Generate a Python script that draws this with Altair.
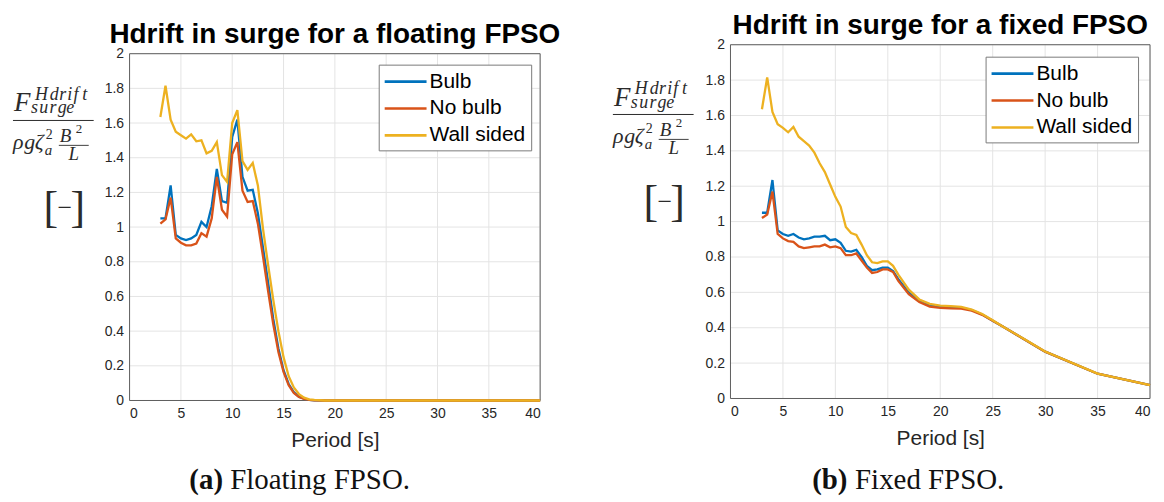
import altair as alt
import pandas as pd

SERIES = ["Bulb", "No bulb", "Wall sided"]
COLORS = ["#0072BD", "#D95319", "#EDB120"]

X_TICKS = [0, 5, 10, 15, 20, 25, 30, 35, 40]
Y_TICKS = [0, 0.2, 0.4, 0.6, 0.8, 1.0, 1.2, 1.4, 1.6, 1.8, 2.0]
X_LIM = [0, 40]
Y_LIM = [0, 2]

TITLE_A = "Hdrift in surge for a floating FPSO"
TITLE_B = "Hdrift in surge for a fixed FPSO"
X_TITLE = "Period [s]"
CAP_A = ("(a)", "Floating FPSO.")
CAP_B = ("(b)", "Fixed FPSO.")

# (a) floating FPSO
float_period = [3.0, 3.5, 4.0, 4.5, 5.0, 5.5, 6.0, 6.5, 7.0, 7.5, 8.0, 8.5, 9.0, 9.5,
                10.0, 10.5, 11.0, 11.5, 12.0, 12.5, 13.0, 13.5, 14.0, 14.5, 15.0, 15.5,
                16.0, 16.5, 17.0, 17.5, 18.0, 19.0, 20.0, 25.0, 30.0, 35.0, 40.0]
float_bulb = [1.05, 1.05, 1.24, 0.955, 0.935, 0.925, 0.935, 0.955, 1.03, 1.00, 1.12, 1.335,
              1.15, 1.14, 1.52, 1.62, 1.29, 1.21, 1.215, 1.08, 0.88, 0.68, 0.47, 0.30,
              0.175, 0.095, 0.048, 0.022, 0.010, 0.004, 0.001, 0, 0, 0, 0, 0, 0]
float_nobulb = [1.02, 1.045, 1.17, 0.935, 0.91, 0.895, 0.895, 0.905, 0.965, 0.945, 1.05, 1.29,
                1.10, 1.06, 1.42, 1.49, 1.21, 1.145, 1.15, 1.02, 0.83, 0.63, 0.44, 0.28,
                0.165, 0.088, 0.044, 0.020, 0.009, 0.003, 0.001, 0, 0, 0, 0, 0, 0]
float_wall = [1.635, 1.815, 1.62, 1.55, 1.53, 1.51, 1.535, 1.495, 1.50, 1.425, 1.44, 1.49,
              1.30, 1.26, 1.60, 1.675, 1.38, 1.33, 1.37, 1.24, 0.99, 0.78, 0.58, 0.40,
              0.25, 0.14, 0.075, 0.037, 0.016, 0.007, 0.003, 0, 0, 0, 0, 0, 0]

# (b) fixed FPSO
fixed_period = [3.0, 3.5, 4.0, 4.5, 5.0, 5.5, 6.0, 6.5, 7.0, 7.5, 8.0, 8.5, 9.0, 9.5,
                10.0, 10.5, 11.0, 11.5, 12.0, 12.5, 13.0, 13.5, 14.0, 14.5, 15.0, 15.5,
                16.0, 17, 18, 19, 20, 21, 22, 23, 24, 25, 26, 27, 28, 29, 30, 35, 40]
fixed_bulb = [1.05, 1.05, 1.235, 0.95, 0.93, 0.92, 0.93, 0.91, 0.90, 0.905, 0.915, 0.915,
              0.92, 0.895, 0.90, 0.88, 0.835, 0.83, 0.84, 0.80, 0.75, 0.725, 0.73, 0.74,
              0.74, 0.72, 0.675, 0.60, 0.555, 0.53, 0.52, 0.517, 0.513, 0.50, 0.475, 0.44,
              0.405, 0.37, 0.335, 0.30, 0.265, 0.14, 0.075]
fixed_nobulb = [1.02, 1.04, 1.17, 0.93, 0.905, 0.89, 0.885, 0.86, 0.85, 0.855, 0.86, 0.86,
                0.87, 0.855, 0.86, 0.85, 0.81, 0.81, 0.82, 0.78, 0.74, 0.71, 0.715, 0.73,
                0.73, 0.715, 0.665, 0.59, 0.545, 0.52, 0.512, 0.51, 0.508, 0.497, 0.473, 0.44,
                0.405, 0.37, 0.335, 0.30, 0.265, 0.14, 0.075]
fixed_wall = [1.635, 1.815, 1.62, 1.55, 1.53, 1.505, 1.535, 1.48, 1.455, 1.43, 1.39, 1.33,
              1.28, 1.21, 1.14, 1.085, 0.97, 0.935, 0.925, 0.87, 0.81, 0.77, 0.765, 0.775,
              0.775, 0.75, 0.70, 0.615, 0.56, 0.535, 0.525, 0.522, 0.518, 0.503, 0.478, 0.442,
              0.406, 0.371, 0.336, 0.301, 0.266, 0.141, 0.076]

SANS = "Liberation Sans"
SERIF = "Liberation Serif"
INK = "#2b2b2b"
AXIS_INK = "#262626"
BOX = "#5e5e5e"
GRID = "#e4e4e4"
ONE = alt.Data(values=[{"k": 1}])

# approximate Computer Modern math-italic advance widths (em)
CMW = {"H": 0.831, "d": 0.520, "r": 0.451, "i": 0.345, "f": 0.490, "t": 0.361,
       "s": 0.469, "u": 0.572, "g": 0.477, "e": 0.466, "ρ": 0.517, "ζ": 0.438}


def long_df(period, series_values):
    rows = []
    for name, ys in zip(SERIES, series_values):
        for x, y in zip(period, ys):
            rows.append({"Period": x, "Value": y, "Series": name})
    return pd.DataFrame(rows)


def txt(s, x, y, size, font=SERIF, style="normal", weight="normal",
        align="left", baseline="alphabetic", color=INK):
    return alt.Chart(ONE).mark_text(
        text=s, font=font, fontSize=size, fontStyle=style, fontWeight=weight,
        align=align, baseline=baseline, color=color
    ).encode(x=alt.value(x), y=alt.value(y))


def rule(x1, x2, y, color=INK, width=1.0):
    return alt.Chart(ONE).mark_rule(color=color, strokeWidth=width).encode(
        x=alt.value(x1), x2=alt.value(x2), y=alt.value(y))


def math_word(w, x, y, size):
    out = []
    cx = x
    for ch in w:
        out.append(txt(ch, cx, y, size, style="italic"))
        cx += CMW[ch] * size
    return out


def y_label(dx, dy):
    parts = []
    parts.append(txt("F", -116 + dx, 58 + dy, 27, style="italic"))
    parts += math_word("Hdrift", -95 + dx, 46 + dy, 18)
    parts += math_word("surge", -99 + dx, 60 + dy, 18)
    parts.append(rule(-117 + dx, -36 + dx, 67 + dy))
    parts += math_word("ρgζ", -117 + dx, 96 + dy, 22)
    parts.append(txt("2", -84 + dx, 86 + dy, 14))
    parts.append(txt("a", -85 + dx, 102 + dy, 15, style="italic"))
    parts.append(txt("B", -70 + dx, 89 + dy, 19, style="italic"))
    parts.append(txt("2", -54 + dx, 80 + dy, 13))
    parts.append(rule(-71 + dx, -41 + dx, 92 + dy, width=0.9))
    parts.append(txt("L", -56 + dx, 107 + dy, 19, style="italic", align="center"))
    parts.append(txt("[", -79 + dx, 156 + dy, 44, align="center", baseline="middle"))
    parts.append(txt("\u2212", -65 + dx, 155 + dy, 26, align="center", baseline="middle"))
    parts.append(txt("]", -52 + dx, 156 + dy, 44, align="center", baseline="middle"))
    return parts


def panel(df, w, h, y_top, title, title_y, caption, cap_x, cap_gap, cap_y,
          legend_x, legend_y, dx, dy, extra_label=""):
    xs = alt.Scale(domain=X_LIM, nice=False, zero=False)
    ys = alt.Scale(domain=[0, y_top], nice=False)
    ax = alt.Axis(values=X_TICKS, title=X_TITLE, grid=False, format="d")
    ay = alt.Axis(values=Y_TICKS, title=None, grid=False, format="~g")

    vlines = pd.DataFrame({"gx": X_TICKS, "g0": Y_LIM[0], "g1": Y_LIM[1]})
    hlines = pd.DataFrame({"gy": Y_TICKS, "g0": X_LIM[0], "g1": X_LIM[1]})
    vbox_df = pd.DataFrame({"gx": X_LIM, "g0": Y_LIM[0], "g1": Y_LIM[1]})
    hbox_df = pd.DataFrame({"gy": Y_LIM, "g0": X_LIM[0], "g1": X_LIM[1]})

    def vrules(d, color):
        return alt.Chart(d).mark_rule(color=color, strokeWidth=1).encode(
            x=alt.X("gx:Q", scale=xs, axis=ax),
            y=alt.Y("g0:Q", scale=ys, axis=ay), y2="g1:Q")

    def hrules(d, color):
        return alt.Chart(d).mark_rule(color=color, strokeWidth=1).encode(
            y=alt.Y("gy:Q", scale=ys, axis=ay),
            x=alt.X("g0:Q", scale=xs, axis=ax), x2="g1:Q")

    lines = alt.Chart(df).mark_line(strokeWidth=2.3).encode(
        x=alt.X("Period:Q", scale=xs, axis=ax),
        y=alt.Y("Value:Q", scale=ys, axis=ay),
        color=alt.Color("Series:N", scale=alt.Scale(domain=SERIES, range=COLORS),
                        sort=SERIES,
                        legend=alt.Legend(
                            title=None, orient="none", legendX=legend_x, legendY=legend_y,
                            symbolType="M-2,0H2", symbolSize=441, symbolStrokeWidth=2.6,
                            symbolOffset=10,
                            labelFont=SANS, labelFontSize=21, labelColor="#000000",
                            labelOffset=12, rowPadding=5, padding=5,
                            strokeColor="#7a7a7a", fillColor="#ffffff",
                            labelExpr="datum.label" + extra_label)),
    )
    layers = [vrules(vlines, GRID), hrules(hlines, GRID),
              vrules(vbox_df, BOX), hrules(hbox_df, BOX), lines]
    layers.append(txt(title, w / 2, title_y, 28, font=SANS, weight="bold",
                      align="center", color="#000000"))
    layers.append(rule(0, 1, -35, color="#ffffff"))
    layers += y_label(dx, dy)
    layers.append(txt(caption[0], cap_x, cap_y, 29, weight="bold", color="#111111"))
    layers.append(txt(caption[1], cap_x + cap_gap, cap_y, 29, color="#111111"))
    return alt.layer(*layers).properties(width=w, height=h)


# left panel: plot box drawn 9px lower than the right one (as in the reference)
LEFT_H = 357
left = panel(long_df(float_period, [float_bulb, float_nobulb, float_wall]),
             412, LEFT_H, 2.0 * LEFT_H / 348.0, TITLE_A, -2, CAP_A, 60, 41, 446,
             250, 20, 0, 9)
right = panel(long_df(fixed_period, [fixed_bulb, fixed_nobulb, fixed_wall]),
              421, 355, 2.0, TITLE_B, -11, CAP_B, 82, 43, 446,
              256, 12, -1, 3, extra_label=" + '\u00a0\u00a0'")

chart = alt.hconcat(left, right, spacing=51).resolve_scale(
    color="independent"
).resolve_legend(
    color="independent"
).properties(
    padding={"left": 4, "top": 0, "right": 0, "bottom": 0}
).configure_view(
    stroke="transparent"
).configure_axis(
    labelFont=SANS, labelFontSize=14, labelColor=AXIS_INK, labelPadding=6,
    titleFont=SANS, titleFontSize=21, titleFontWeight="normal", titleColor=AXIS_INK,
    titlePadding=9, domain=False, ticks=False
)

chart.save("out.html", embed_options={"renderer": "svg", "actions": False})
